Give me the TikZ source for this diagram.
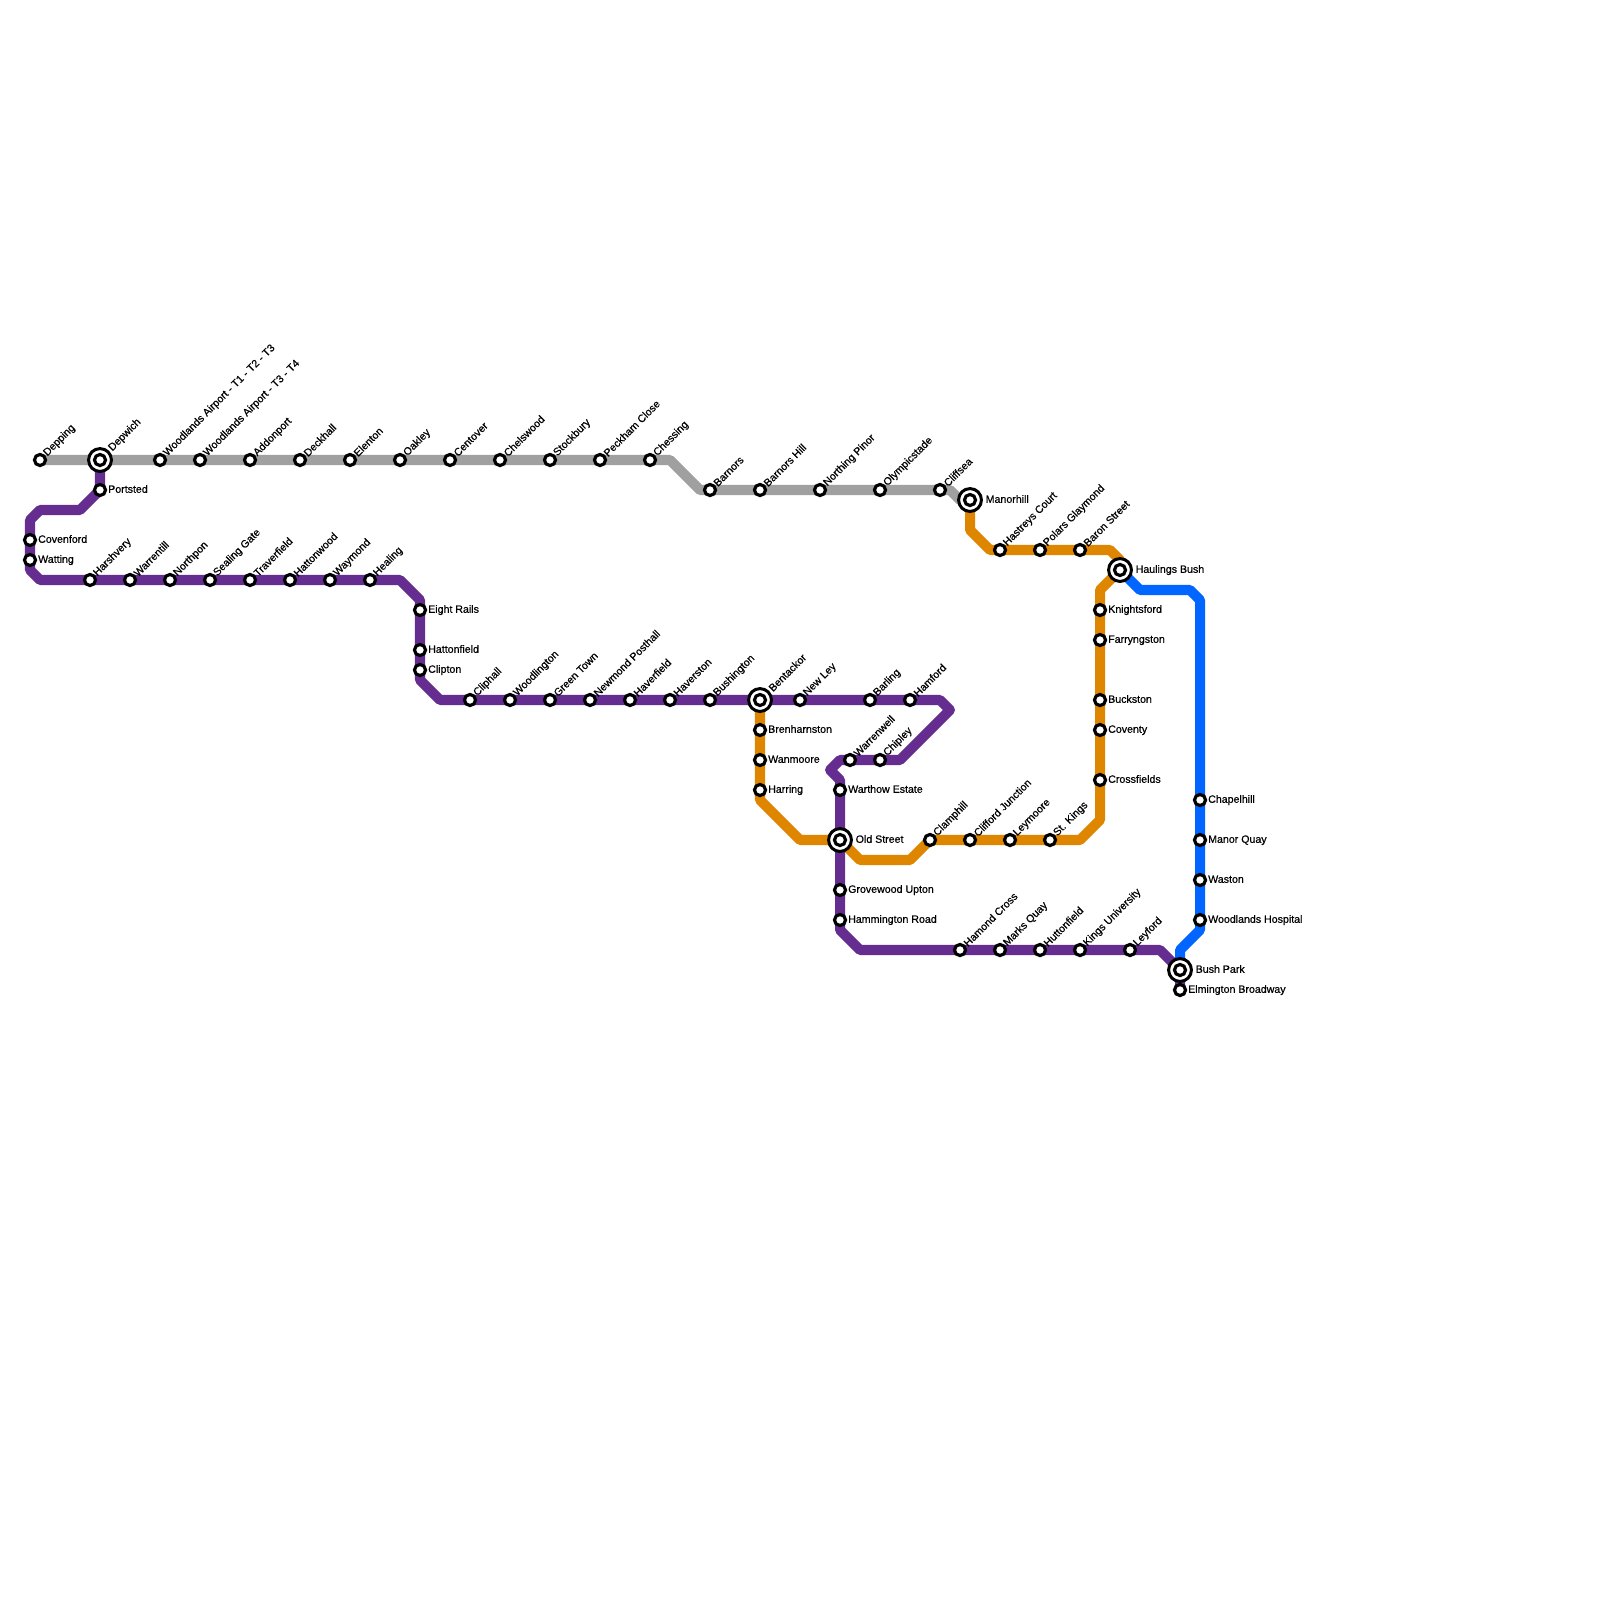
\documentclass[tikz,border=0pt]{standalone}
\usepackage{fontspec}
\setmainfont{Liberation Sans}
\newfontfamily\stnfont[FakeBold=0.6]{Liberation Sans}
\usetikzlibrary{backgrounds}
\definecolor{LineGrey}{RGB}{160,160,160}
\definecolor{LinePurple}{RGB}{102,45,145}
\definecolor{LineOrange}{RGB}{223,134,0}
\definecolor{LineBlue}{RGB}{0,102,255}
\tikzset{
  stn/.style={circle,draw=black,fill=white,line width=0.9pt,inner sep=0pt,minimum size=3.15pt},
  xchg/.style={circle,draw=black,fill=white,line width=0.85pt,inner sep=0pt,minimum size=6.5pt},
  upname/.style={rotate=45,anchor=west,inner sep=0pt,font=\stnfont\fontsize{3.02}{3}\selectfont},
  sidename/.style={anchor=base west,inner sep=0pt,font=\stnfont\fontsize{3.02}{3}\selectfont},
  track/.style={line width=2.85pt,line join=round}
}
\begin{document}
\begin{tikzpicture}[x=0.01cm,y=-0.01cm]
  \useasboundingbox (0,0) rectangle (1600,1600);
  % Plain stops, name above at 45 degrees
  \foreach \id/\x/\y/\t in {depping/40/460/Depping, wooda/160/460/Woodlands Airport - T1 - T2 - T3,
      woodb/200/460/Woodlands Airport - T3 - T4, addonport/250/460/Addonport, deckhall/300/460/Deckhall,
      elenton/350/460/Elenton, oakley/400/460/Oakley, centover/450/460/Centover, chelswood/500/460/Chelswood,
      stockbury/550/460/Stockbury, peckham/600/460/Peckham Close, chessing/650/460/Chessing,
      barnors/710/490/Barnors, barnorshill/760/490/Barnors Hill, northing/820/490/Northing Pinor,
      olympic/880/490/Olympicstade, cliffsea/940/490/Cliffsea,
      harshvery/90/580/Harshvery, warrentill/130/580/Warrentill, northpon/170/580/Northpon,
      sealing/210/580/Sealing Gate, traverfield/250/580/Traverfield, hattonwood/290/580/Hattonwood,
      waymond/330/580/Waymond, healing/370/580/Healing,
      cliphall/470/700/Cliphall, woodlington/510/700/Woodlington, greentown/550/700/Green Town,
      newmond/590/700/Newmond Posthall, haverfield/630/700/Haverfield, haverston/670/700/Haverston,
      bushington/710/700/Bushington, newley/800/700/New Ley, barling/870/700/Barling, hamford/910/700/Hamford,
      warrenwell/850/760/Warrenwell, chipley/880/760/Chipley,
      hamond/960/950/Hamond Cross, marksquay/1000/950/Marks Quay, huttonfield/1040/950/Huttonfield,
      kingsuni/1080/950/Kings University, leyford/1130/950/Leyford,
      hastreys/1000/550/Hastreys Court, polars/1040/550/Polars Glaymond, baron/1080/550/Baron Street,
      clamphill/930/840/Clamphill, clifford/970/840/Clifford Junction, leymoore/1010/840/Leymoore,
      stkings/1050/840/St. Kings}{
    \node[stn] (\id) at (\x,\y) {};
    \node[upname] (\id-t) at (\x+5,\y-5) {\t};
  }
  % Plain stops, name to the right
  \foreach \id/\x/\y/\t in {portsted/100/490/Portsted, covenford/30/540/Covenford, watting/30/560/Watting,
      eightrails/420/610/Eight Rails, hattonfield/420/650/Hattonfield, clipton/420/670/Clipton,
      brenharn/760/730/Brenharnston, wanmoore/760/760/Wanmoore, harring/760/790/Harring,
      warthow/840/790/Warthow Estate, grovewood/840/890/Grovewood Upton, hammington/840/920/Hammington Road,
      knightsford/1100/610/Knightsford, farryngston/1100/640/Farryngston, buckston/1100/700/Buckston,
      coventy/1100/730/Coventy, crossfields/1100/780/Crossfields,
      chapelhill/1200/800/Chapelhill, manorquay/1200/840/Manor Quay, waston/1200/880/Waston,
      woodhosp/1200/920/Woodlands Hospital, elmington/1180/990/Elmington Broadway}{
    \node[stn] (\id) at (\x,\y) {};
    \node[sidename] (\id-t) at (\x+7.5,\y+2.8) {\t};
  }
  % Interchanges
  \foreach \id/\x/\y/\t in {depwich/100/460/Depwich, bentackor/760/700/Bentackor}{
    \node[xchg] (\id) at (\x,\y) {};
    \node[stn] (\id-c) at (\x,\y) {};
    \node[upname] (\id-t) at (\x+10,\y-10) {\t};
  }
  \foreach \id/\x/\y/\t in {manorhill/970/500/Manorhill, haulings/1120/570/Haulings Bush,
      oldstreet/840/840/Old Street, bushpark/1180/970/Bush Park}{
    \node[xchg] (\id) at (\x,\y) {};
    \node[stn] (\id-c) at (\x,\y) {};
    \node[sidename] (\id-t) at (\x+15,\y+2.8) {\t};
  }
  % Bends
  \foreach \id/\x/\y in {ga/670/460, gb/700/490, gc/950/490, gd/960/500,
      pa/80/510, pb/40/510, pc/30/520, pd/30/570, pe/40/580, pf/400/580, pg/420/600, ph/420/680, pi/440/700,
      pj/940/700, pk/950/710, pl/900/760, pm/840/760, pn/830/770, po/840/780, pp/840/930, pq/860/950, pr/1160/950,
      oa/970/530, ob/990/550, oc/1110/550, od/1120/560, oe/1100/590, of/1100/820, og/1080/840,
      oh/910/860, oi/860/860, oj/800/840, ok/760/800,
      ba/1140/590, bb/1190/590, bc/1200/600, bd/1200/930, be/1180/950}{
    \coordinate (\id) at (\x,\y);
  }
  \begin{scope}[on background layer]
    % Orange line
    \draw[track,LineOrange] (manorhill.center) -- (oa) -- (ob) -- (hastreys.center) -- (polars.center)
      -- (baron.center) -- (oc) -- (od) -- (haulings.center) -- (oe) -- (knightsford.center)
      -- (farryngston.center) -- (buckston.center) -- (coventy.center) -- (crossfields.center) -- (of) -- (og)
      -- (stkings.center) -- (leymoore.center) -- (clifford.center) -- (clamphill.center) -- (oh) -- (oi)
      -- (oldstreet.center) -- (oj) -- (ok) -- (harring.center) -- (wanmoore.center) -- (brenharn.center)
      -- (bentackor.center);
    % Blue line
    \draw[track,LineBlue] (haulings.center) -- (ba) -- (bb) -- (bc) -- (chapelhill.center)
      -- (manorquay.center) -- (waston.center) -- (woodhosp.center) -- (bd) -- (be) -- (bushpark.center);
    % Grey line
    \draw[track,LineGrey] (depping.center) -- (depwich.center) -- (wooda.center) -- (woodb.center)
      -- (addonport.center) -- (deckhall.center) -- (elenton.center) -- (oakley.center) -- (centover.center)
      -- (chelswood.center) -- (stockbury.center) -- (peckham.center) -- (chessing.center) -- (ga) -- (gb)
      -- (barnors.center) -- (barnorshill.center) -- (northing.center) -- (olympic.center) -- (cliffsea.center)
      -- (gc) -- (gd) -- (manorhill.center);
    % Purple line
    \draw[track,LinePurple] (depwich.center) -- (portsted.center) -- (pa) -- (pb) -- (pc) -- (covenford.center)
      -- (watting.center) -- (pd) -- (pe) -- (harshvery.center) -- (warrentill.center) -- (northpon.center)
      -- (sealing.center) -- (traverfield.center) -- (hattonwood.center) -- (waymond.center) -- (healing.center)
      -- (pf) -- (pg) -- (eightrails.center) -- (hattonfield.center) -- (clipton.center) -- (ph) -- (pi)
      -- (cliphall.center) -- (woodlington.center) -- (greentown.center) -- (newmond.center) -- (haverfield.center)
      -- (haverston.center) -- (bushington.center) -- (bentackor.center) -- (newley.center) -- (barling.center)
      -- (hamford.center) -- (pj) -- (pk) -- (pl) -- (chipley.center) -- (warrenwell.center) -- (pm) -- (pn)
      -- (po) -- (warthow.center) -- (oldstreet.center) -- (grovewood.center) -- (hammington.center) -- (pp)
      -- (pq) -- (hamond.center) -- (marksquay.center) -- (huttonfield.center) -- (kingsuni.center)
      -- (leyford.center) -- (pr) -- (bushpark.center) -- (elmington.center);
  \end{scope}
\end{tikzpicture}
\end{document}
